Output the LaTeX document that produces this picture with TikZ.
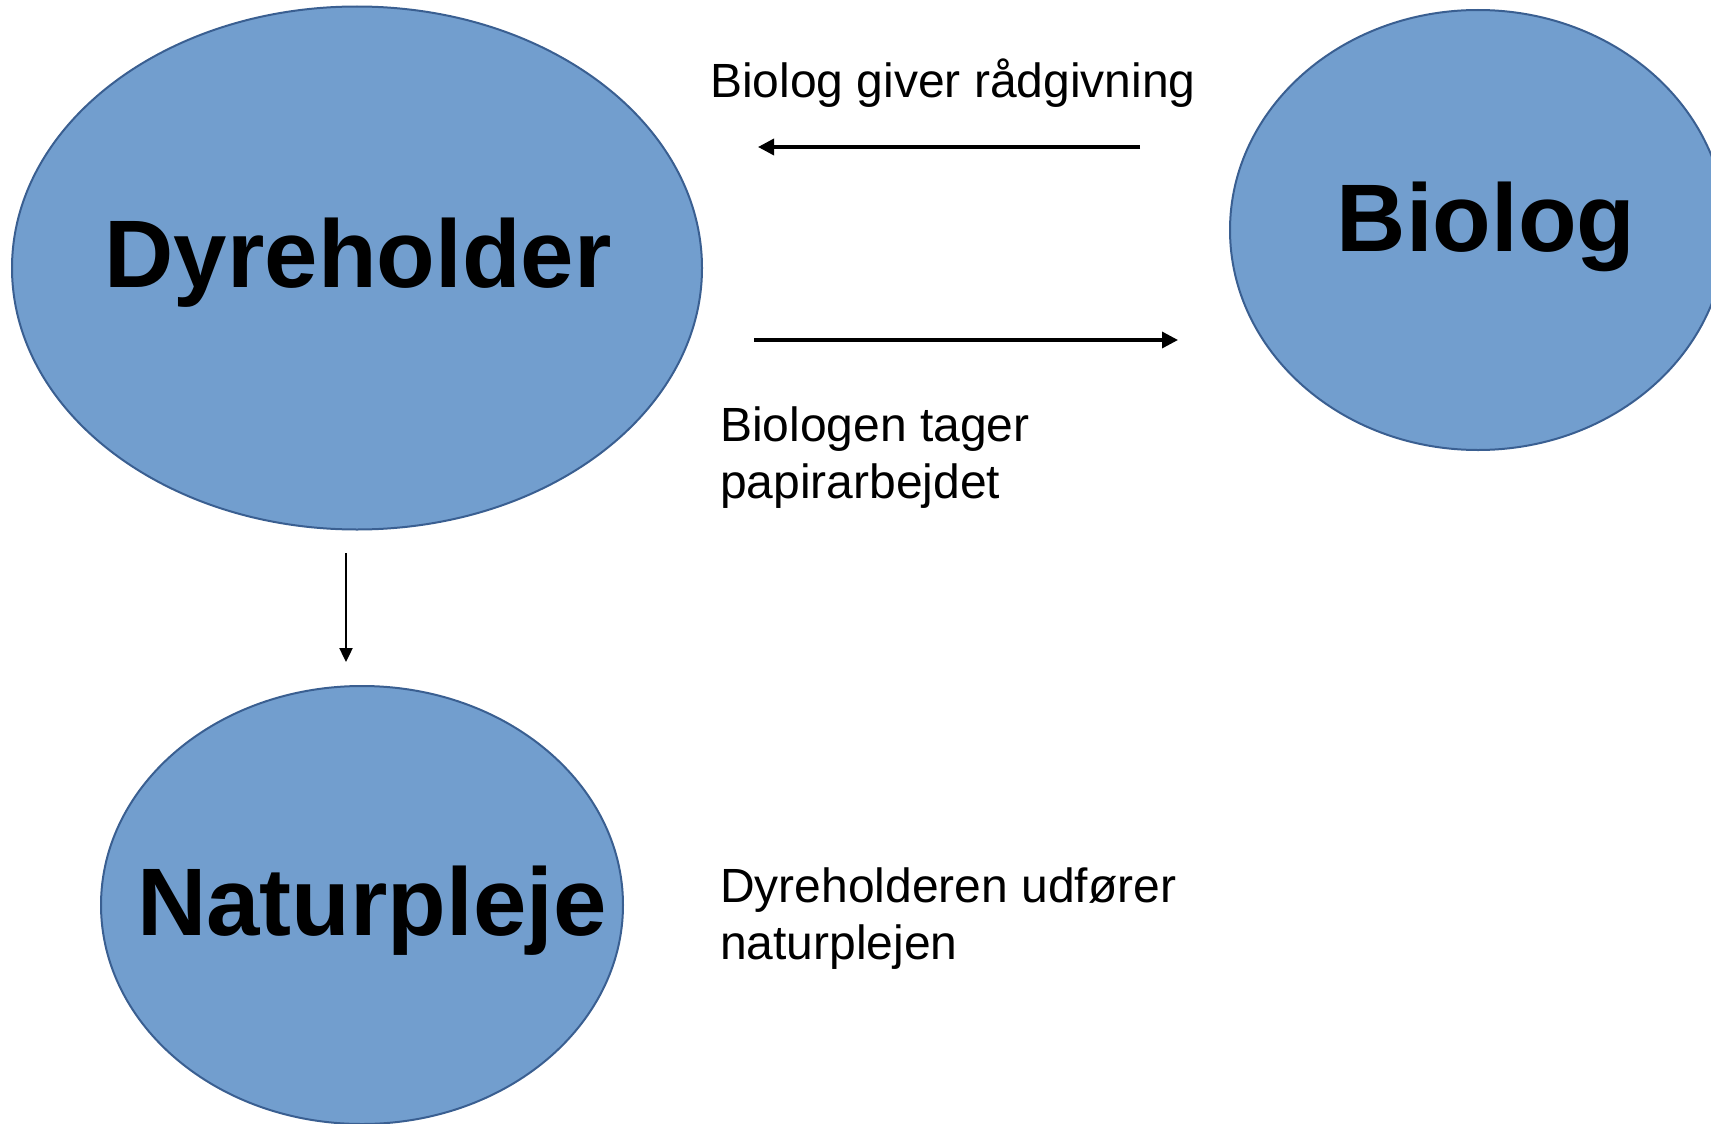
\documentclass[tikz,border=0pt]{standalone}
\usepackage{fontspec}
\setmainfont{Liberation Sans}
\usepackage{xcolor}
\usetikzlibrary{shapes,arrows,positioning,calc,arrows.meta}
\definecolor{blobfill}{RGB}{114,158,206}
\definecolor{blobline}{RGB}{58,95,145}

\begin{document}
\begin{tikzpicture}[x=1pt, y=-1pt,
    blob/.style={ellipse, draw=blobline, line width=2pt, fill=blobfill, inner sep=0pt},
    big/.style={font=\fontsize{96}{110}\selectfont\bfseries, anchor=base, inner sep=0pt},
    note/.style={font=\fontsize{48}{57}\selectfont, anchor=base west, inner sep=0pt, align=left},
    pil/.style={line width=3.4pt, -{Triangle[length=16pt,width=16pt]}}]
    \useasboundingbox (0,0) rectangle (1711,1124);
    % the three actors
    \node[blob, minimum width=690pt, minimum height=523pt] (dyr) at (357,268) {};
    \node[blob, minimum width=496pt, minimum height=440pt] (bio) at (1478,230) {};
    \node[blob, minimum width=522pt, minimum height=438pt] (natur) at (362,905) {};
    \node[big] (dyrtxt) at (358,287) {Dyreholder};
    \node[big] (biotxt) at (1486,251) {Biolog};
    \node[big] (naturtxt) at (372,935) {Naturpleje};
    % labels (base = last line)
    \node[note] (raad) at (710,98) {Biolog giver rådgivning};
    \node[note] (papir) at (720,498) {Biologen tager\\papirarbejdet};
    \node[note] (pleje) at (720,959) {Dyreholderen udfører\\naturplejen};
    % arrow ends
    \coordinate (raadA) at (1140,147);
    \coordinate (raadB) at (758,147);
    \coordinate (papirA) at (754,340);
    \coordinate (papirB) at (1178,340);
    \coordinate (plejeA) at (346,553);
    \coordinate (plejeB) at (346,662);
    \draw[pil] (raadA) -- (raadB);
    \draw[pil] (papirA) -- (papirB);
    \draw[line width=2.4pt, -{Triangle[length=14pt,width=13pt]}] (plejeA) -- (plejeB);
\end{tikzpicture}
\end{document}
